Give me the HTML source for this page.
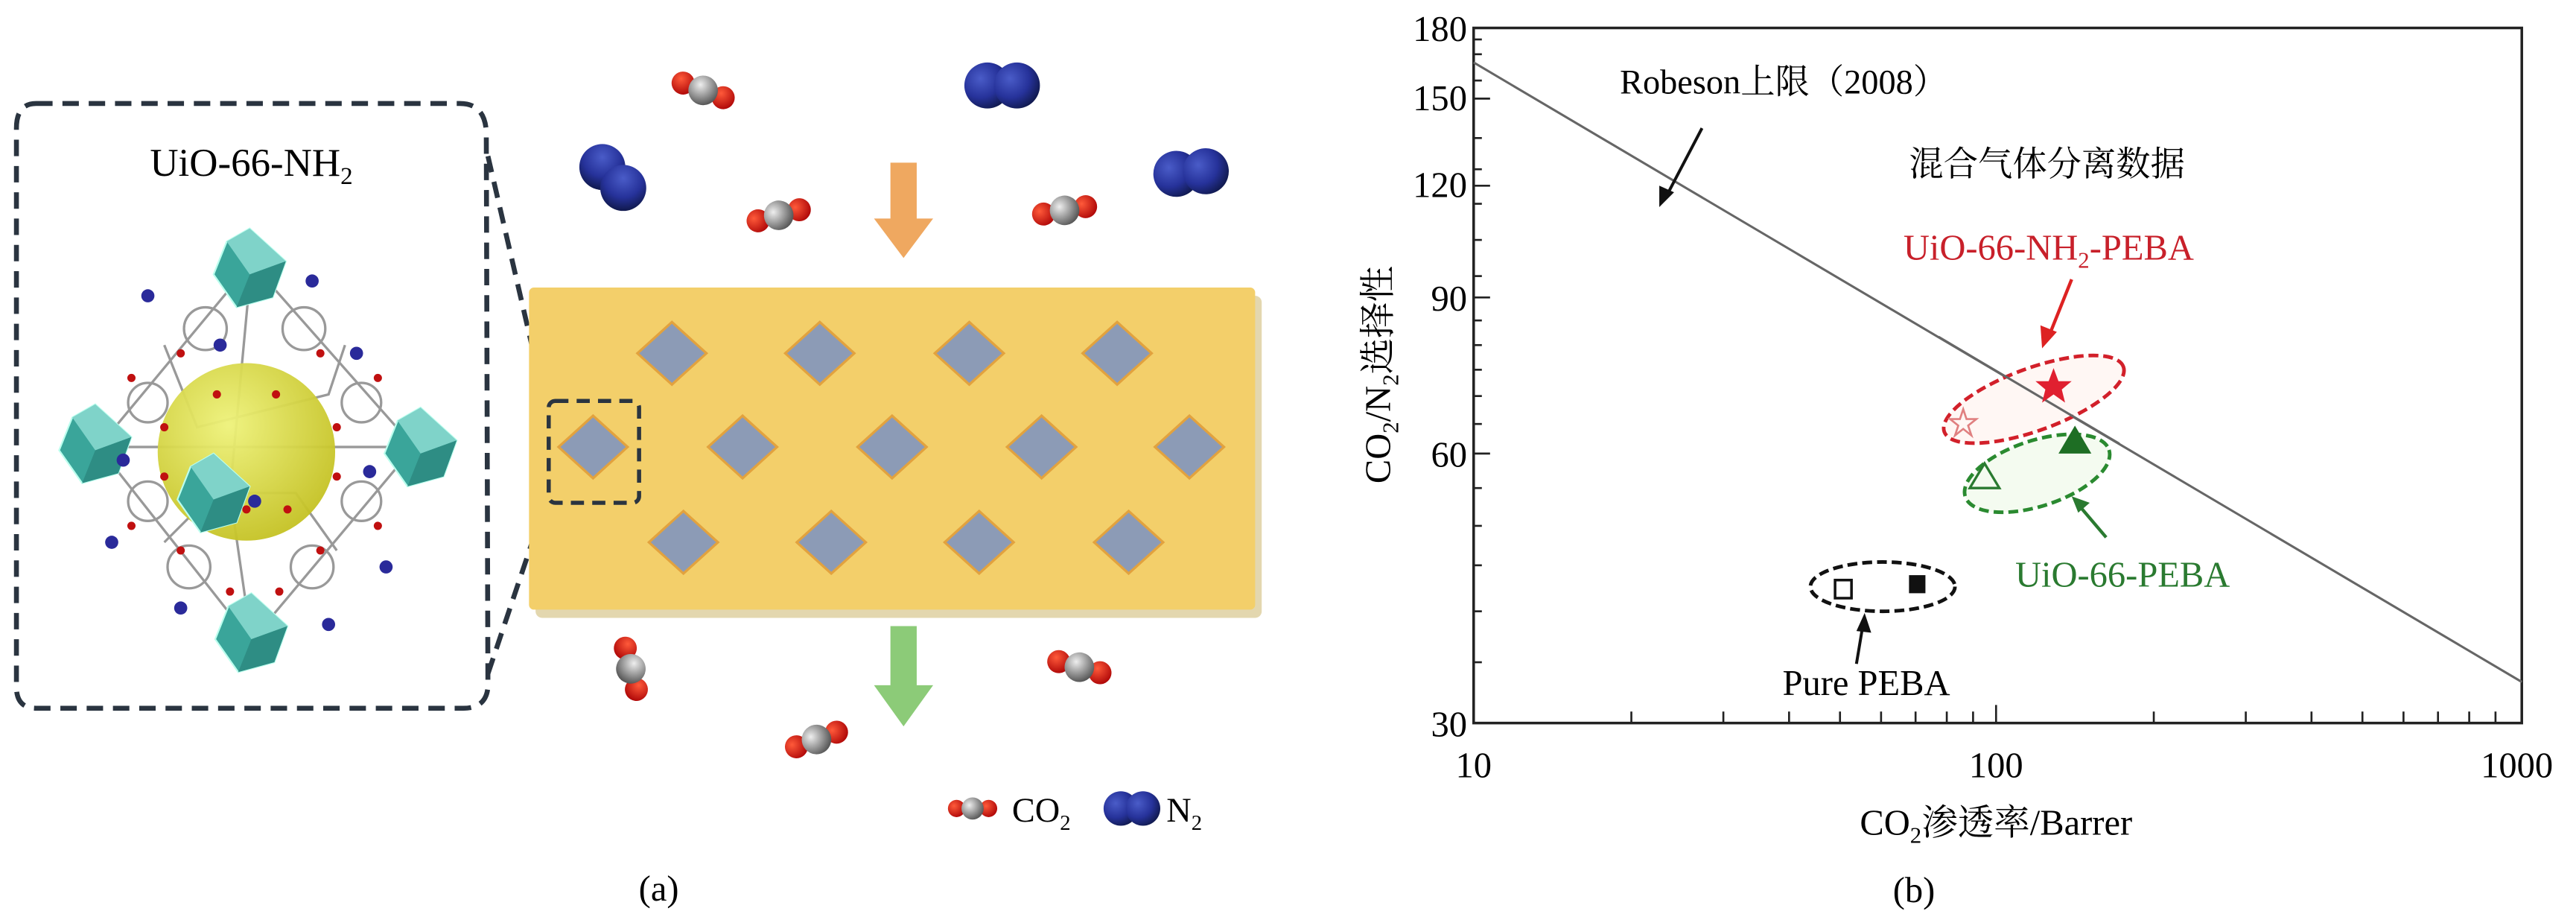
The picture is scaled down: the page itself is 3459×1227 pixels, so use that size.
<!DOCTYPE html>
<html><head><meta charset="utf-8"><style>
html,body{margin:0;padding:0;background:#fff}
svg{display:block}
svg text{font-family:"Liberation Serif","Noto Serif CJK SC","Noto Sans CJK SC",serif}
</style></head><body>
<svg width="3459" height="1227" viewBox="0 0 1568 556.2" xmlns="http://www.w3.org/2000/svg" font-family="'Liberation Serif','Noto Serif CJK SC',serif">
<defs>
<radialGradient id="nb" cx="0.35" cy="0.35" r="0.7"><stop offset="0" stop-color="#4a5cc8"/><stop offset="0.6" stop-color="#26329a"/><stop offset="1" stop-color="#111a50"/></radialGradient>
<radialGradient id="rd" cx="0.35" cy="0.35" r="0.7"><stop offset="0" stop-color="#ff5a3a"/><stop offset="1" stop-color="#b00808"/></radialGradient>
<radialGradient id="gy" cx="0.35" cy="0.35" r="0.7"><stop offset="0" stop-color="#eee"/><stop offset="1" stop-color="#555"/></radialGradient>
<radialGradient id="ys" cx="0.4" cy="0.35" r="0.7"><stop offset="0" stop-color="#eef27a"/><stop offset="1" stop-color="#c3c020"/></radialGradient>
<g id="co2"><circle cx="-13" cy="0" r="7" fill="url(#rd)"/><circle cx="13" cy="0" r="7" fill="url(#rd)"/><circle cx="0" cy="0" r="9" fill="url(#gy)"/></g>
<g id="n2"><circle cx="-9" cy="0" r="14" fill="url(#nb)"/><circle cx="9" cy="0" r="14" fill="url(#nb)"/></g>
<g id="oct"><polygon points="0,-24 22,-4 14,18 -8,24 -22,4 -14,-16" fill="#3aa59a" stroke="#bfe" stroke-width="1"/><polygon points="0,-24 22,-4 0,4 -14,-16" fill="#7fd3c9"/><polygon points="0,4 22,-4 14,18 -8,24" fill="#2e8d84"/></g>
<polygon id="dm" points="0,-19 21,0 0,19 -21,0" fill="#8c9bb6" stroke="#e2a23e" stroke-width="1.5"/>
</defs>

<!-- Panel a -->
<path d="M22,63 H280 Q295,63 296,80 L297,418 Q296,431 282,431 H22 Q10,431 10,418 V78 Q10,63 22,63 Z" fill="none" stroke="#2a3440" stroke-width="3" stroke-dasharray="10,6"/>
<path d="M297,95 L333,250 M297,410 L333,303" fill="none" stroke="#2a3440" stroke-width="3" stroke-dasharray="10,6"/>
<text x="153" y="107" font-size="24" text-anchor="middle">UiO-66-NH<tspan font-size="15" dy="5">2</tspan></text>

<!-- MOF -->
<g stroke="#999" stroke-width="1.5" fill="none">
<path d="M153,160 L60,272 L153,390 L252,272 Z"/>
<path d="M100,210 L120,260 L200,240 L210,210 M100,330 L130,300 L180,300 L205,335 M60,272 L252,272 M153,160 L140,300 L153,390"/>
<circle cx="125" cy="200" r="13"/><circle cx="185" cy="200" r="13"/><circle cx="115" cy="345" r="13"/><circle cx="190" cy="345" r="13"/>
<circle cx="90" cy="245" r="12"/><circle cx="220" cy="245" r="12"/><circle cx="90" cy="305" r="12"/><circle cx="220" cy="305" r="12"/>
</g>
<circle cx="150" cy="275" r="54" fill="url(#ys)" opacity="0.95"/>
<use href="#oct" x="152" y="163"/><use href="#oct" x="58" y="270"/><use href="#oct" x="256" y="272"/><use href="#oct" x="130" y="300"/><use href="#oct" x="153" y="385"/>
<g fill="#c01010">
<circle cx="132" cy="240" r="2.5"/><circle cx="168" cy="240" r="2.5"/><circle cx="110" cy="215" r="2.5"/><circle cx="195" cy="215" r="2.5"/><circle cx="100" cy="260" r="2.5"/><circle cx="205" cy="260" r="2.5"/><circle cx="100" cy="290" r="2.5"/><circle cx="205" cy="290" r="2.5"/><circle cx="110" cy="335" r="2.5"/><circle cx="195" cy="335" r="2.5"/><circle cx="150" cy="310" r="2.5"/><circle cx="175" cy="310" r="2.5"/><circle cx="80" cy="230" r="2.5"/><circle cx="230" cy="230" r="2.5"/><circle cx="80" cy="320" r="2.5"/><circle cx="230" cy="320" r="2.5"/><circle cx="140" cy="360" r="2.5"/><circle cx="170" cy="360" r="2.5"/>
</g>
<g fill="#2a2a9a">
<circle cx="134" cy="210" r="4"/><circle cx="190" cy="171" r="4"/><circle cx="90" cy="180" r="4"/><circle cx="217" cy="215" r="4"/><circle cx="75" cy="280" r="4"/><circle cx="225" cy="287" r="4"/><circle cx="155" cy="305" r="4"/><circle cx="68" cy="330" r="4"/><circle cx="235" cy="345" r="4"/><circle cx="110" cy="370" r="4"/><circle cx="200" cy="380" r="4"/>
</g>

<!-- membrane -->
<rect x="326" y="180" width="442" height="196" rx="4" fill="#c8b060" opacity="0.5"/>
<rect x="322" y="175" width="442" height="196" rx="3" fill="#f3cf6a"/>
<rect x="334" y="244" width="55" height="62" rx="4" fill="none" stroke="#2a3440" stroke-width="2.5" stroke-dasharray="8,5"/>
<use href="#dm" x="409" y="215"/><use href="#dm" x="499" y="215"/><use href="#dm" x="590" y="215"/><use href="#dm" x="680" y="215"/>
<use href="#dm" x="361" y="272"/><use href="#dm" x="452" y="272"/><use href="#dm" x="543" y="272"/><use href="#dm" x="634" y="272"/><use href="#dm" x="724" y="272"/>
<use href="#dm" x="416" y="330"/><use href="#dm" x="506" y="330"/><use href="#dm" x="596" y="330"/><use href="#dm" x="687" y="330"/>

<polygon points="542,99 558,99 558,133 568,133 550,157 532,133 542,133" fill="#efa860"/>
<polygon points="542,381 558,381 558,417 568,417 550,442 532,417 542,417" fill="#8ccb78"/>

<use href="#co2" x="428" y="55" transform="rotate(20 428 55)"/>
<use href="#co2" x="474" y="131" transform="rotate(-15 474 131)"/>
<use href="#co2" x="648" y="128" transform="rotate(-10 648 128)"/>
<use href="#co2" x="384" y="407" transform="rotate(75 384 407)"/>
<use href="#co2" x="657" y="406" transform="rotate(15 657 406)"/>
<use href="#co2" x="497" y="450" transform="rotate(-20 497 450)"/>
<use href="#n2" x="610" y="52"/>
<use href="#n2" x="373" y="108" transform="rotate(45 373 108)"/>
<use href="#n2" x="725" y="105" transform="rotate(-5 725 105)"/>
<use href="#co2" x="0" y="0" transform="translate(592 492) scale(0.75)"/>
<text x="616" y="500" font-size="21">CO<tspan font-size="13" dy="5">2</tspan></text>
<use href="#n2" x="0" y="0" transform="translate(689 492) scale(0.75)"/>
<text x="710" y="500" font-size="21">N<tspan font-size="13" dy="5">2</tspan></text>
<text x="401" y="548" font-size="22" text-anchor="middle">(a)</text>

<!-- Panel b -->
<rect x="897" y="17" width="638" height="423" fill="none" stroke="#222" stroke-width="1.6"/>
<g stroke="#222" stroke-width="1.2">
<line x1="993" y1="440" x2="993" y2="433"/><line x1="1049" y1="440" x2="1049" y2="433"/><line x1="1089" y1="440" x2="1089" y2="433"/><line x1="1120" y1="440" x2="1120" y2="433"/><line x1="1145" y1="440" x2="1145" y2="433"/><line x1="1166" y1="440" x2="1166" y2="433"/><line x1="1185" y1="440" x2="1185" y2="433"/><line x1="1201" y1="440" x2="1201" y2="433"/>
<line x1="1215" y1="440" x2="1215" y2="429"/>
<line x1="1311" y1="440" x2="1311" y2="433"/><line x1="1367" y1="440" x2="1367" y2="433"/><line x1="1407" y1="440" x2="1407" y2="433"/><line x1="1438" y1="440" x2="1438" y2="433"/><line x1="1463" y1="440" x2="1463" y2="433"/><line x1="1484" y1="440" x2="1484" y2="433"/><line x1="1503" y1="440" x2="1503" y2="433"/><line x1="1519" y1="440" x2="1519" y2="433"/>
<line x1="897" y1="17" x2="907" y2="17"/><line x1="897" y1="60" x2="907" y2="60"/><line x1="897" y1="113" x2="907" y2="113"/><line x1="897" y1="181" x2="907" y2="181"/><line x1="897" y1="276" x2="907" y2="276"/>
<line x1="897" y1="403" x2="902" y2="403"/><line x1="897" y1="372" x2="902" y2="372"/><line x1="897" y1="344" x2="902" y2="344"/><line x1="897" y1="320" x2="902" y2="320"/><line x1="897" y1="297" x2="902" y2="297"/><line x1="897" y1="258" x2="902" y2="258"/><line x1="897" y1="241" x2="902" y2="241"/><line x1="897" y1="225" x2="902" y2="225"/><line x1="897" y1="210" x2="902" y2="210"/><line x1="897" y1="195" x2="902" y2="195"/><line x1="897" y1="168" x2="902" y2="168"/><line x1="897" y1="146" x2="902" y2="146"/><line x1="897" y1="124" x2="902" y2="124"/><line x1="897" y1="103" x2="902" y2="103"/><line x1="897" y1="84" x2="902" y2="84"/><line x1="897" y1="49" x2="902" y2="49"/><line x1="897" y1="33" x2="902" y2="33"/><line x1="897" y1="24" x2="902" y2="24"/>
</g>
<g font-size="22" text-anchor="end">
<text x="893" y="25">180</text><text x="893" y="67">150</text><text x="893" y="120">120</text><text x="893" y="189">90</text><text x="893" y="284">60</text><text x="893" y="448">30</text>
</g>
<g font-size="22" text-anchor="middle">
<text x="897" y="473">10</text><text x="1215" y="473">100</text><text x="1532" y="473">1000</text>
</g>
<text x="1215" y="508" font-size="22" text-anchor="middle">CO<tspan font-size="14" dy="5">2</tspan><tspan dy="-5">渗透率/Barrer</tspan></text>
<text transform="translate(846 228) rotate(-90)" font-size="22" text-anchor="middle">CO<tspan font-size="14" dy="5">2</tspan><tspan dy="-5">/N</tspan><tspan font-size="14" dy="5">2</tspan><tspan dy="-5">选择性</tspan></text>
<text x="1165" y="549" font-size="22" text-anchor="middle">(b)</text>

<line x1="897" y1="38" x2="1535" y2="415" stroke="#666" stroke-width="1.4"/>
<text x="986" y="57" font-size="21">Robeson上限（2008）</text>
<path d="M1036,78 L1014,120" stroke="#111" stroke-width="1.8"/><polygon points="1010,126 1010,113 1019,117" fill="#111"/>
<text x="1246" y="107" font-size="21" text-anchor="middle">混合气体分离数据</text>
<text x="1247" y="158" font-size="22" fill="#c8202a" text-anchor="middle">UiO-66-NH<tspan font-size="14" dy="5">2</tspan><tspan dy="-5">-PEBA</tspan></text>
<path d="M1261,170 L1247,205" stroke="#d22" stroke-width="2"/><polygon points="1243,212 1242,198 1252,202" fill="#d22"/>

<ellipse cx="1238" cy="243" rx="58" ry="19" transform="rotate(-20 1238 243)" fill="#fff7f4" stroke="#d2202a" stroke-width="2.2" stroke-dasharray="6,3"/>
<ellipse cx="1240" cy="288" rx="46" ry="20" transform="rotate(-18 1240 288)" fill="#f4fbf0" stroke="#2a8a30" stroke-width="2.2" stroke-dasharray="6,3"/>
<line x1="1180" y1="205" x2="1290" y2="270" stroke="#666" stroke-width="1.4"/>
<polygon points="1250,224 1253,232 1261,232 1255,237 1257,245 1250,240 1243,245 1245,237 1239,232 1247,232" fill="#e02030"/>
<polygon points="1195,249 1197,255 1203,255 1198,259 1200,265 1195,261 1190,265 1192,259 1187,255 1193,255" fill="none" stroke="#e08080" stroke-width="1.2"/>
<polygon points="1263,259 1273,276 1253,276" fill="#1e6e24"/>
<polygon points="1208,282 1217,297 1199,297" fill="none" stroke="#2a7a30" stroke-width="1.5"/>
<text x="1292" y="357" font-size="22" fill="#2a7a30" text-anchor="middle">UiO-66-PEBA</text>
<path d="M1282,327 L1265,307" stroke="#2a7a30" stroke-width="2"/><polygon points="1261,302 1272,306 1265,312" fill="#2a7a30"/>

<ellipse cx="1146" cy="357" rx="44" ry="15" fill="none" stroke="#111" stroke-width="2.2" stroke-dasharray="6,3"/>
<rect x="1117" y="353" width="10" height="11" fill="none" stroke="#111" stroke-width="1.6"/>
<rect x="1162" y="350" width="10" height="11" fill="#111"/>
<text x="1136" y="423" font-size="22" text-anchor="middle">Pure PEBA</text>
<path d="M1130,404 L1134,380" stroke="#111" stroke-width="1.8"/><polygon points="1135,373 1139,385 1130,384" fill="#111"/>
</svg>
</body></html>
